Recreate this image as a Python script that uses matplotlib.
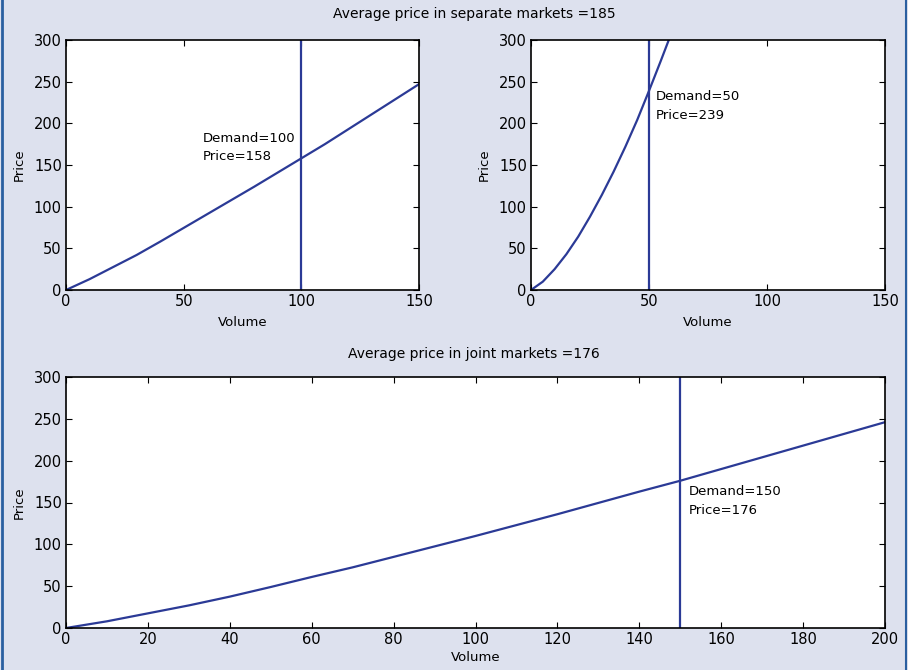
import matplotlib
matplotlib.use('Agg')
import matplotlib.pyplot as plt
from matplotlib.lines import Line2D

# Separate market 1
vol_a = [0, 10, 20, 30, 40, 50, 60, 70, 80, 90, 100, 110, 120, 130, 140, 150]
price_a = [0, 13, 27.5, 42, 58, 74.5, 91, 107.5, 124, 141, 158, 175, 193, 211, 229, 247]
demand_a, eq_price_a = 100, 158

# Separate market 2
vol_b = [0, 5, 10, 15, 20, 25, 30, 35, 40, 45, 50, 55, 60]
price_b = [0, 10, 25, 43, 64, 88, 114, 142, 172, 204, 239, 275, 312]
demand_b, eq_price_b = 50, 239

# Joint market
vol_c = [0, 10, 20, 30, 40, 50, 60, 70, 80, 90, 100, 110, 120, 130, 140,
         150, 160, 170, 180, 190, 200]
price_c = [0, 8, 17.5, 27, 37.5, 49, 61, 72.5, 85, 97.5, 110, 123, 136,
           149.5, 163, 176, 190, 204, 218, 232, 246]
demand_c, eq_price_c = 150, 176

avg_separate = 185
avg_joint = 176

line_col = '#2b3a96'
bg = '#dde1ee'

plt.rcParams['font.family'] = ['DejaVu Sans']
plt.rcParams['font.size'] = 10

fig = plt.figure(figsize=(9.08, 6.70), dpi=100, facecolor=bg)
W, H = 908.0, 670.0


def box(x0, y0, x1, y1):
    return [x0 / W, 1 - y1 / H, (x1 - x0) / W, (y1 - y0) / H]


def style(ax, xticks):
    ax.set_ylim(0, 300)
    ax.set_yticks([0, 50, 100, 150, 200, 250, 300])
    ax.set_xticks(xticks)
    ax.set_xlim(xticks[0], xticks[-1])
    ax.tick_params(direction='in', top=True, right=True, length=4,
                   width=0.8, labelsize=10.5, pad=3)
    for s in ax.spines.values():
        s.set_linewidth(1.2)
    ax.set_ylabel('Price', fontsize=9.5, labelpad=6)
    ax.set_xlabel('Volume', fontsize=9.5, labelpad=5)


ax1 = fig.add_axes(box(66, 40, 419, 290))
ax1.plot(vol_a, price_a, color=line_col, lw=1.6)
ax1.axvline(demand_a, color=line_col, lw=1.6)
ax1.text(58, 171, 'Demand=%d\nPrice=%d' % (demand_a, eq_price_a),
         va='center', ha='left', fontsize=9.5, linespacing=1.6)
style(ax1, [0, 50, 100, 150])

ax2 = fig.add_axes(box(531, 40, 885, 290))
ax2.plot(vol_b, price_b, color=line_col, lw=1.6)
ax2.axvline(demand_b, color=line_col, lw=1.6)
ax2.text(53, 221, 'Demand=%d\nPrice=%d' % (demand_b, eq_price_b),
         va='center', ha='left', fontsize=9.5, linespacing=1.6)
style(ax2, [0, 50, 100, 150])

ax3 = fig.add_axes(box(66, 377, 885, 628))
ax3.plot(vol_c, price_c, color=line_col, lw=1.6)
ax3.axvline(demand_c, color=line_col, lw=1.6)
ax3.text(152, 152, 'Demand=%d\nPrice=%d' % (demand_c, eq_price_c),
         va='center', ha='left', fontsize=9.5, linespacing=1.6)
style(ax3, list(range(0, 201, 20)))
ax3.xaxis.labelpad = 3

fig.text(474 / W, 1 - 14 / H, 'Average price in separate markets =%d' % avg_separate,
         ha='center', va='center', fontsize=10)
fig.text(474 / W, 1 - 354 / H, 'Average price in joint markets =%d' % avg_joint,
         ha='center', va='center', fontsize=10)

# thin blue frame edges
fig.add_artist(Line2D([1.5 / W, 1.5 / W], [0, 1], color='#2a5fa0', lw=2))
fig.add_artist(Line2D([905.5 / W, 905.5 / W], [0, 1], color='#2a5fa0', lw=1.5))

fig.savefig('out.png', dpi=100, facecolor=bg)
